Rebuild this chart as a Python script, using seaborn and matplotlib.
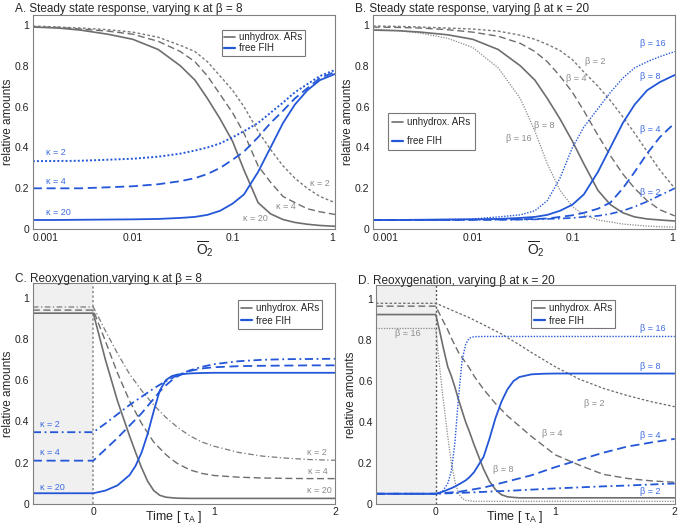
import matplotlib
matplotlib.use('Agg')
import matplotlib.pyplot as plt
from matplotlib.lines import Line2D
from matplotlib.ticker import FixedLocator, FuncFormatter, NullLocator
import seaborn as sns

# ---------- data ----------

# A. steady state, varying kappa at beta = 8
o2_a = [0.001, 0.0018, 0.003, 0.0056, 0.01, 0.018, 0.03, 0.042, 0.056, 0.075, 0.1, 0.13, 0.18, 0.24, 0.32, 0.42, 0.56, 0.75, 1.06]
ar_a_k20 = [0.99, 0.985, 0.975, 0.955, 0.93, 0.88, 0.80, 0.73, 0.64, 0.54, 0.43, 0.29, 0.13, 0.075, 0.047, 0.033, 0.024, 0.018, 0.014]
ar_a_k4 = [0.99, 0.988, 0.98, 0.97, 0.955, 0.92, 0.87, 0.82, 0.75, 0.66, 0.57, 0.47, 0.31, 0.23, 0.16, 0.13, 0.10, 0.085, 0.072]
ar_a_k2 = [0.995, 0.99, 0.985, 0.977, 0.965, 0.94, 0.90, 0.87, 0.82, 0.75, 0.68, 0.60, 0.48, 0.39, 0.31, 0.25, 0.20, 0.16, 0.13]
fih_a_k20 = [0.045, 0.045, 0.046, 0.047, 0.048, 0.05, 0.055, 0.06, 0.07, 0.09, 0.125, 0.17, 0.28, 0.40, 0.52, 0.61, 0.68, 0.73, 0.76]
fih_a_k4 = [0.20, 0.20, 0.20, 0.205, 0.21, 0.22, 0.235, 0.25, 0.27, 0.30, 0.34, 0.38, 0.45, 0.52, 0.58, 0.64, 0.69, 0.74, 0.77]
fih_a_k2 = [0.333, 0.334, 0.335, 0.34, 0.345, 0.355, 0.37, 0.385, 0.40, 0.42, 0.45, 0.48, 0.52, 0.57, 0.62, 0.67, 0.71, 0.75, 0.78]

# B. steady state, varying beta at kappa = 20
o2_b = [0.001, 0.0018, 0.003, 0.0056, 0.01, 0.018, 0.03, 0.042, 0.056, 0.075, 0.1, 0.13, 0.18, 0.24, 0.32, 0.42, 0.56, 0.75, 1.06]
ar_b_b16 = [0.98, 0.972, 0.96, 0.935, 0.89, 0.79, 0.64, 0.48, 0.32, 0.19, 0.11, 0.07, 0.045, 0.035, 0.025, 0.02, 0.015, 0.012, 0.01]
ar_b_b8 = [0.975, 0.972, 0.965, 0.952, 0.93, 0.88, 0.80, 0.73, 0.64, 0.54, 0.43, 0.32, 0.19, 0.12, 0.08, 0.06, 0.05, 0.045, 0.04]
ar_b_b4 = [0.99, 0.988, 0.985, 0.977, 0.965, 0.945, 0.91, 0.87, 0.82, 0.75, 0.67, 0.58, 0.46, 0.36, 0.27, 0.20, 0.14, 0.095, 0.065]
ar_b_b2 = [0.995, 0.993, 0.99, 0.985, 0.98, 0.97, 0.95, 0.93, 0.905, 0.875, 0.83, 0.77, 0.70, 0.63, 0.55, 0.47, 0.38, 0.29, 0.20]
fih_b_b16 = [0.045, 0.045, 0.046, 0.048, 0.05, 0.06, 0.07, 0.09, 0.14, 0.25, 0.40, 0.50, 0.59, 0.67, 0.74, 0.79, 0.82, 0.845, 0.87]
fih_b_b8 = [0.045, 0.045, 0.046, 0.047, 0.048, 0.05, 0.055, 0.06, 0.07, 0.09, 0.12, 0.17, 0.28, 0.40, 0.52, 0.61, 0.68, 0.72, 0.755]
fih_b_b4 = [0.045, 0.045, 0.045, 0.045, 0.046, 0.047, 0.048, 0.05, 0.052, 0.06, 0.068, 0.08, 0.10, 0.13, 0.20, 0.28, 0.37, 0.45, 0.52]
fih_b_b2 = [0.045, 0.045, 0.045, 0.045, 0.046, 0.046, 0.047, 0.048, 0.05, 0.052, 0.055, 0.06, 0.065, 0.075, 0.09, 0.11, 0.135, 0.165, 0.20]

# C. reoxygenation, varying kappa at beta = 8
t_c = [-0.5, 0, 0.1, 0.2, 0.3, 0.35, 0.4, 0.45, 0.5, 0.55, 0.6, 0.65, 0.7, 0.8, 0.9, 1.0, 1.2, 1.4, 1.6, 1.8, 2.0]
ar_c_k20 = [0.925, 0.925, 0.70, 0.50, 0.33, 0.25, 0.175, 0.11, 0.065, 0.042, 0.033, 0.03, 0.028, 0.027, 0.027, 0.027, 0.027, 0.027, 0.027, 0.027, 0.027]
ar_c_k4 = [0.94, 0.94, 0.79, 0.635, 0.50, 0.445, 0.39, 0.345, 0.30, 0.27, 0.24, 0.215, 0.195, 0.165, 0.148, 0.138, 0.13, 0.126, 0.124, 0.123, 0.123]
ar_c_k2 = [0.955, 0.955, 0.84, 0.73, 0.63, 0.59, 0.55, 0.515, 0.48, 0.45, 0.42, 0.395, 0.37, 0.33, 0.30, 0.28, 0.25, 0.232, 0.222, 0.215, 0.212]
fih_c_k20 = [0.052, 0.052, 0.065, 0.09, 0.14, 0.185, 0.25, 0.34, 0.45, 0.55, 0.60, 0.62, 0.628, 0.633, 0.635, 0.636, 0.636, 0.636, 0.636, 0.636, 0.636]
fih_c_k4 = [0.21, 0.21, 0.265, 0.32, 0.38, 0.41, 0.44, 0.475, 0.51, 0.545, 0.575, 0.60, 0.62, 0.645, 0.657, 0.663, 0.668, 0.67, 0.671, 0.672, 0.672]
fih_c_k2 = [0.348, 0.348, 0.39, 0.435, 0.48, 0.50, 0.52, 0.54, 0.56, 0.578, 0.595, 0.61, 0.625, 0.648, 0.665, 0.678, 0.692, 0.699, 0.702, 0.703, 0.704]

# D. reoxygenation, varying beta at kappa = 20
t_d = [-0.5, 0, 0.03, 0.06, 0.1, 0.13, 0.16, 0.19, 0.22, 0.25, 0.28, 0.32, 0.4, 0.45, 0.5, 0.55, 0.6, 0.65, 0.7, 0.8, 0.9, 1.0, 1.2, 1.4, 1.6, 1.8, 2.0]
ar_d_b16 = [0.857, 0.857, 0.68, 0.52, 0.33, 0.20, 0.11, 0.05, 0.028, 0.018, 0.015, 0.013, 0.013, 0.013, 0.013, 0.013, 0.013, 0.013, 0.013, 0.013, 0.013, 0.013, 0.013, 0.013, 0.013, 0.013, 0.013]
ar_d_b8 = [0.925, 0.925, 0.85, 0.77, 0.67, 0.625, 0.57, 0.51, 0.455, 0.40, 0.355, 0.29, 0.17, 0.11, 0.07, 0.045, 0.035, 0.032, 0.03, 0.03, 0.03, 0.03, 0.03, 0.03, 0.03, 0.03, 0.03]
ar_d_b4 = [0.966, 0.966, 0.93, 0.895, 0.85, 0.81, 0.775, 0.74, 0.715, 0.69, 0.665, 0.625, 0.56, 0.525, 0.49, 0.46, 0.43, 0.405, 0.38, 0.33, 0.285, 0.24, 0.19, 0.145, 0.125, 0.113, 0.106]
ar_d_b2 = [0.98, 0.98, 0.973, 0.965, 0.955, 0.947, 0.94, 0.932, 0.925, 0.917, 0.91, 0.898, 0.875, 0.86, 0.845, 0.83, 0.812, 0.795, 0.777, 0.74, 0.705, 0.67, 0.61, 0.565, 0.53, 0.50, 0.475]
fih_d_b16 = [0.05, 0.05, 0.053, 0.065, 0.10, 0.16, 0.30, 0.52, 0.70, 0.78, 0.81, 0.817, 0.818, 0.818, 0.818, 0.818, 0.818, 0.818, 0.818, 0.818, 0.818, 0.818, 0.818, 0.818, 0.818, 0.818, 0.818]
fih_d_b8 = [0.05, 0.05, 0.055, 0.06, 0.07, 0.077, 0.085, 0.095, 0.105, 0.115, 0.13, 0.155, 0.23, 0.32, 0.42, 0.50, 0.56, 0.60, 0.62, 0.633, 0.636, 0.637, 0.637, 0.637, 0.637, 0.637, 0.637]
t_d_slow = [-0.5, 0, 0.2, 0.4, 0.5, 0.6, 0.7, 0.8, 0.9, 1.0, 1.2, 1.4, 1.6, 1.8, 2.0]
fih_d_b4 = [0.05, 0.05, 0.06, 0.08, 0.095, 0.11, 0.125, 0.14, 0.16, 0.18, 0.215, 0.25, 0.28, 0.30, 0.318]
fih_d_b2 = [0.05, 0.05, 0.054, 0.059, 0.062, 0.064, 0.067, 0.07, 0.073, 0.076, 0.081, 0.086, 0.09, 0.095, 0.10]

# ---------- style ----------
sns.set_style('white')
plt.rcParams['font.family'] = ['Liberation Sans', 'DejaVu Sans']
plt.rcParams['mathtext.fontset'] = 'custom'
plt.rcParams['mathtext.rm'] = 'Liberation Sans'
plt.rcParams['mathtext.it'] = 'Liberation Sans:italic'

GREY = '#6e6e6e'
BLUE = '#2357d8'
GREY_TXT = '#8c8c8c'
BLUE_TXT = '#3d6be0'

SOLID = '-'
DASH = (0, (5, 2.6))
SHORT = (0, (2, 1.6))
DOT = (0, (1, 1.1))
DASHDOT = (0, (4.5, 2, 1, 2))

fig = plt.figure(figsize=(6.85, 5.28), dpi=100)
ax_a = fig.add_axes([0.048, 0.566, 0.441, 0.406])
ax_b = fig.add_axes([0.5445, 0.566, 0.4405, 0.406])
ax_c = fig.add_axes([0.048, 0.0455, 0.441, 0.418])
ax_d = fig.add_axes([0.549, 0.0455, 0.436, 0.415])


def curve(ax, x, y, color, ls, lw=1.1):
    sns.lineplot(x=x, y=y, ax=ax, color=color, linestyle=ls, linewidth=lw,
                 estimator=None, sort=False)


def style_axes(ax):
    for s in ax.spines.values():
        s.set_color('#808080')
        s.set_linewidth(0.8)
    ax.tick_params(direction='in', length=3, width=0.7, color='#808080',
                   labelcolor='#222222', labelsize=7.5, pad=2.5)
    ax.yaxis.set_major_locator(FixedLocator([0, 0.2, 0.4, 0.6, 0.8, 1.0]))
    ax.yaxis.set_major_formatter(FuncFormatter(lambda v, p: f'{v:g}'))
    ax.set_ylabel('relative amounts', fontsize=8.5, labelpad=1)


def log_xaxis(ax):
    ax.set_xscale('log')
    ax.set_xlim(0.001, 1.06)
    ax.xaxis.set_major_locator(FixedLocator([0.001, 0.01, 0.1, 1]))
    ax.xaxis.set_major_formatter(FuncFormatter(lambda v, p: f'{v:g}'))
    ax.xaxis.set_minor_locator(NullLocator())
    ax.xaxis.get_major_ticks()[0].label1.set_horizontalalignment('left')


def add_legend(ax, anchor, loc, spacing=0.15, pad=0.3):
    handles = [Line2D([], [], color=GREY, lw=1.2), Line2D([], [], color=BLUE, lw=1.6)]
    leg = ax.legend(handles, ['unhydrox. ARs', 'free FIH'], loc=loc, bbox_to_anchor=anchor,
                    fontsize=7, frameon=True, fancybox=False, handlelength=1.1,
                    handletextpad=0.4, borderpad=pad, labelspacing=spacing,
                    borderaxespad=0)
    leg.get_frame().set_edgecolor('#555555')
    leg.get_frame().set_linewidth(0.8)


def label(ax, x, y, text, color):
    ax.text(x, y, text, color=color, fontsize=6.5, ha='left', va='center')


def title(ax, text, y):
    ax.text(-0.06, y, text, transform=ax.transAxes, fontsize=8.5, ha='left', va='baseline')


# ---------- A ----------
ax = ax_a
curve(ax, o2_a, ar_a_k20, GREY, SOLID, 1.2)
curve(ax, o2_a, ar_a_k4, GREY, DASH, 1.0)
curve(ax, o2_a, ar_a_k2, '#7a7a7a', SHORT, 1.0)
curve(ax, o2_a, fih_a_k20, BLUE, SOLID, 1.3)
curve(ax, o2_a, fih_a_k4, BLUE, DASH, 1.3)
curve(ax, o2_a, fih_a_k2, BLUE, DOT, 1.4)
ax.set_ylim(0, 1.05)
style_axes(ax)
log_xaxis(ax)
ax.set_xlabel(r'$\overline{\mathrm{O}}_\mathrm{2}$', fontsize=10, labelpad=0)
ax.xaxis.set_label_coords(0.57, -0.045)
label(ax, 0.00135, 0.375, 'κ = 2', BLUE_TXT)
label(ax, 0.00135, 0.232, 'κ = 4', BLUE_TXT)
label(ax, 0.00135, 0.08, 'κ = 20', BLUE_TXT)
label(ax, 0.6, 0.225, 'κ = 2', GREY_TXT)
label(ax, 0.275, 0.11, 'κ = 4', GREY_TXT)
label(ax, 0.126, 0.05, 'κ = 20', GREY_TXT)
add_legend(ax, (0.90, 0.93), 'upper right', spacing=0.1, pad=0.25)
title(ax, 'A. Steady state response, varying κ at β = 8', 1.014)

# ---------- B ----------
ax = ax_b
curve(ax, o2_b, ar_b_b16, '#8a8a8a', DOT, 0.9)
curve(ax, o2_b, ar_b_b8, GREY, SOLID, 1.2)
curve(ax, o2_b, ar_b_b4, GREY, DASH, 1.0)
curve(ax, o2_b, ar_b_b2, '#7a7a7a', SHORT, 1.0)
curve(ax, o2_b, fih_b_b16, BLUE, DOT, 1.0)
curve(ax, o2_b, fih_b_b8, BLUE, SOLID, 1.3)
curve(ax, o2_b, fih_b_b4, BLUE, DASH, 1.3)
curve(ax, o2_b, fih_b_b2, BLUE, DASHDOT, 1.2)
ax.set_ylim(0, 1.05)
style_axes(ax)
log_xaxis(ax)
ax.set_xlabel(r'$\overline{\mathrm{O}}_\mathrm{2}$', fontsize=10, labelpad=0)
ax.xaxis.set_label_coords(0.54, -0.045)
label(ax, 0.135, 0.82, 'β = 2', GREY_TXT)
label(ax, 0.087, 0.74, 'β = 4', GREY_TXT)
label(ax, 0.041, 0.51, 'β = 8', GREY_TXT)
label(ax, 0.0214, 0.445, 'β = 16', GREY_TXT)
label(ax, 0.48, 0.91, 'β = 16', BLUE_TXT)
label(ax, 0.48, 0.75, 'β = 8', BLUE_TXT)
label(ax, 0.48, 0.49, 'β = 4', BLUE_TXT)
label(ax, 0.48, 0.18, 'β = 2', BLUE_TXT)
add_legend(ax, (0.05, 0.542), 'upper left', spacing=0.9, pad=0.45)
title(ax, 'B. Steady state response, varying β at κ = 20', 1.014)

# ---------- C ----------
ax = ax_c
ax.axvspan(-0.5, 0, color='#f0f0f0', zorder=0, lw=0)
ax.axvline(0, color='#8a8a8a', linestyle=(0, (1.5, 1.5)), lw=1.1)
curve(ax, t_c, ar_c_k20, GREY, SOLID, 1.2)
curve(ax, t_c, ar_c_k4, GREY, DASH, 1.0)
curve(ax, t_c, ar_c_k2, '#7a7a7a', DASHDOT, 0.9)
curve(ax, t_c, fih_c_k20, BLUE, SOLID, 1.3)
curve(ax, t_c, fih_c_k4, BLUE, DASH, 1.3)
curve(ax, t_c, fih_c_k2, BLUE, DASHDOT, 1.3)
ax.set_xlim(-0.5, 2)
ax.set_ylim(0, 1.07)
style_axes(ax)
ax.xaxis.set_major_locator(FixedLocator([0, 1, 2]))
ax.set_xlabel('Time [ τ$_\\mathrm{A}$ ]', fontsize=9, labelpad=0)
ax.xaxis.set_label_coords(0.467, -0.022)
label(ax, -0.44, 0.383, 'κ = 2', BLUE_TXT)
label(ax, -0.44, 0.25, 'κ = 4', BLUE_TXT)
label(ax, -0.44, 0.081, 'κ = 20', BLUE_TXT)
label(ax, 1.77, 0.25, 'κ = 2', GREY_TXT)
label(ax, 1.78, 0.157, 'κ = 4', GREY_TXT)
label(ax, 1.77, 0.063, 'κ = 20', GREY_TXT)
add_legend(ax, (0.957, 0.923), 'upper right', spacing=0.25, pad=0.3)
title(ax, 'C. Reoxygenation,varying κ at β = 8', 1.004)

# ---------- D ----------
ax = ax_d
ax.axvspan(-0.5, 0, color='#f0f0f0', zorder=0, lw=0)
ax.axvline(0, color='#555555', linestyle=(0, (1.5, 1.5)), lw=1.0)
curve(ax, t_d, ar_d_b16, '#8a8a8a', DOT, 0.9)
curve(ax, t_d, ar_d_b8, GREY, SOLID, 1.2)
curve(ax, t_d, ar_d_b4, GREY, DASH, 1.0)
curve(ax, t_d, ar_d_b2, '#6a6a6a', SHORT, 0.9)
curve(ax, t_d, fih_d_b16, BLUE, DOT, 1.0)
curve(ax, t_d, fih_d_b8, BLUE, SOLID, 1.3)
curve(ax, t_d_slow, fih_d_b4, BLUE, DASH, 1.3)
curve(ax, t_d_slow, fih_d_b2, BLUE, DASHDOT, 1.3)
ax.set_xlim(-0.5, 2)
ax.set_ylim(0, 1.07)
style_axes(ax)
ax.xaxis.set_major_locator(FixedLocator([0, 1, 2]))
ax.set_xlabel('Time [ τ$_\\mathrm{A}$ ]', fontsize=9, labelpad=0)
ax.xaxis.set_label_coords(0.465, -0.022)
label(ax, -0.34, 0.833, 'β = 16', GREY_TXT)
label(ax, 1.24, 0.49, 'β = 2', GREY_TXT)
label(ax, 0.89, 0.345, 'β = 4', GREY_TXT)
label(ax, 0.48, 0.166, 'β = 8', GREY_TXT)
label(ax, 1.71, 0.857, 'β = 16', BLUE_TXT)
label(ax, 1.71, 0.669, 'β = 8', BLUE_TXT)
label(ax, 1.71, 0.333, 'β = 4', BLUE_TXT)
label(ax, 1.71, 0.063, 'β = 2', BLUE_TXT)
add_legend(ax, (0.80, 0.93), 'upper right', spacing=0.25, pad=0.3)
title(ax, 'D. Reoxygenation, varying β at κ = 20', 1.004)

fig.savefig('out.png', dpi=100)
